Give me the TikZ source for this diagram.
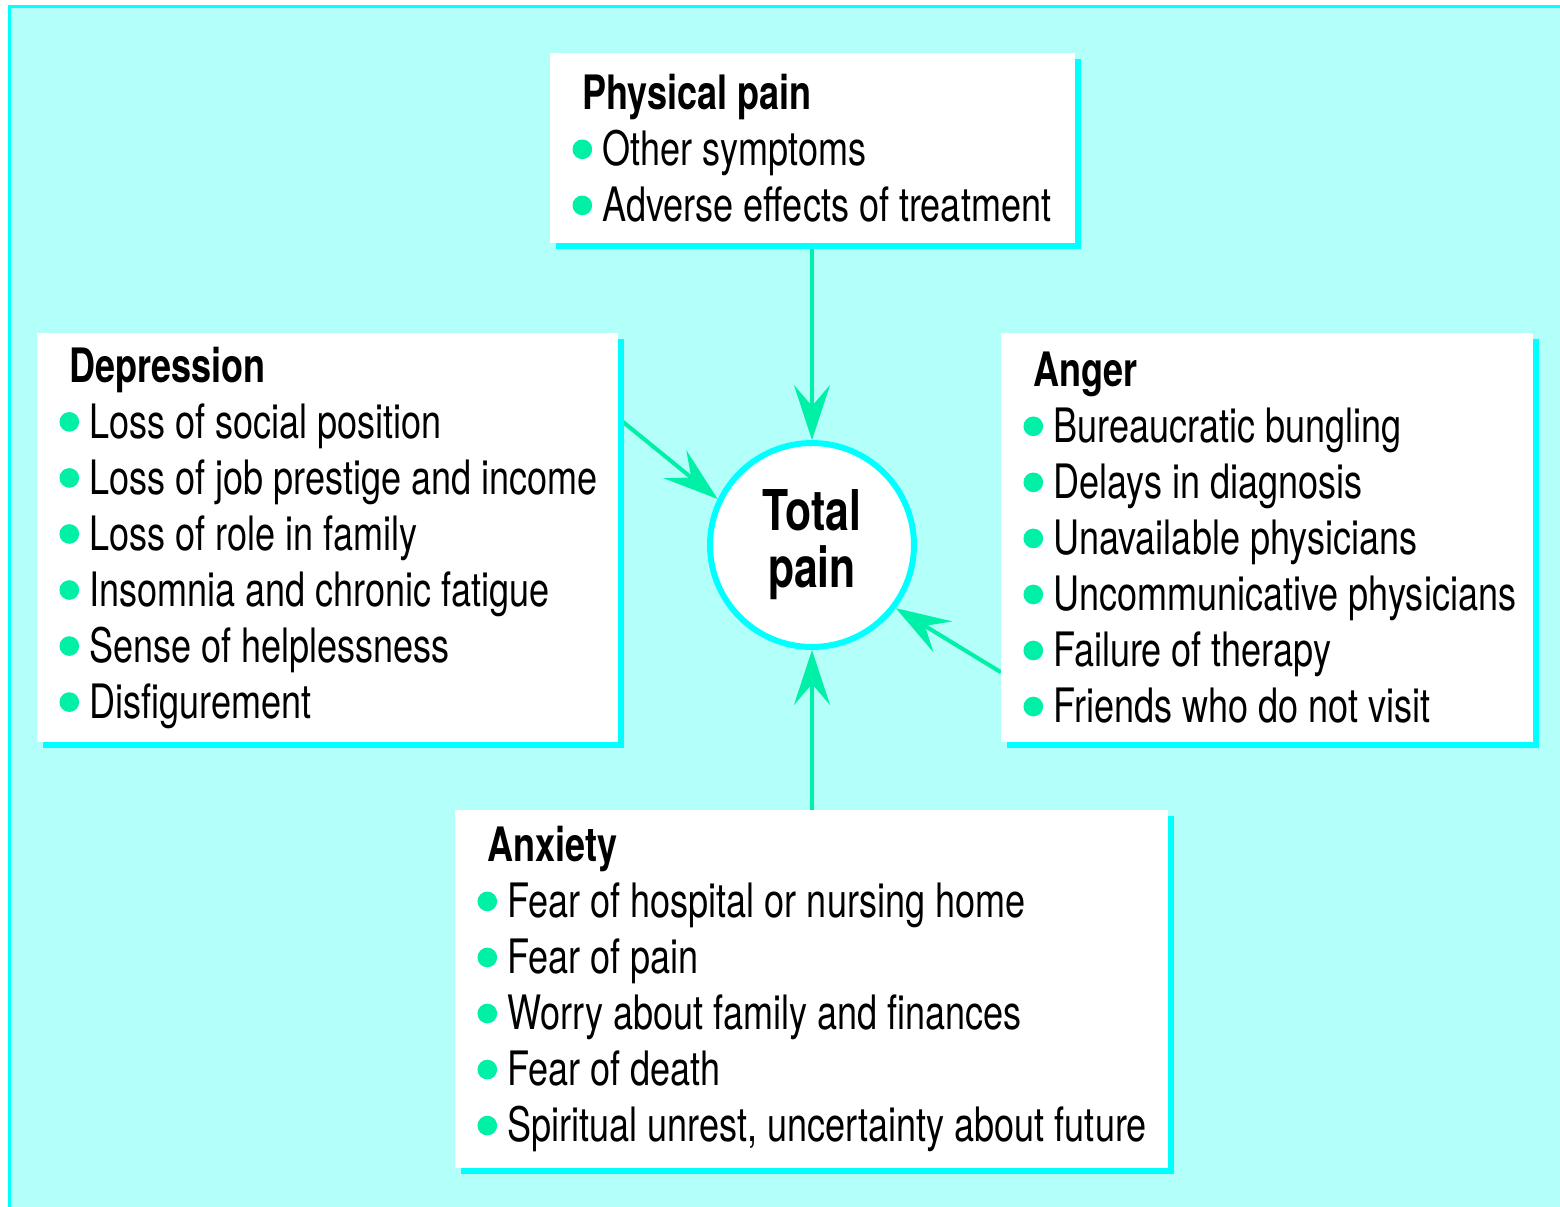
\documentclass[tikz,border=0pt]{standalone}
\usepackage{fontspec}
\setmainfont{TeX Gyre Heros}[FakeStretch=0.76]
\usetikzlibrary{arrows.meta,shadows,backgrounds}
\definecolor{skycyan}{RGB}{179,255,250}
\definecolor{edgecyan}{RGB}{0,255,255}
\definecolor{dotgreen}{RGB}{0,240,168}
\newcommand\bul{\makebox[11.4pt][l]{\hspace*{-5.6pt}\tikz[baseline=0pt]\fill[dotgreen] (0,9.3pt) circle (5.6pt);}}

\begin{document}
\begin{tikzpicture}[x=0.02cm, y=-0.02cm]
    \tikzset{
      panel/.style={anchor=north west, fill=white, inner sep=0pt, align=left,
        font=\fontsize{27pt}{31.9pt}\selectfont,
        execute at begin node={\leftskip=18.2pt\spaceskip=5.7pt plus 2pt minus 1pt\hyphenpenalty=10000\relax},
        drop shadow={shadow xshift=0.12cm, shadow yshift=-0.12cm, fill=edgecyan, opacity=1}},
      hub/.style={circle, draw=edgecyan, line width=3.4pt, fill=white, minimum size=4.08cm,
        align=center, font=\fontsize{32pt}{32.4pt}\selectfont\bfseries},
      flow/.style={-{Stealth[length=1.1cm, width=0.72cm, inset=0.42cm]}, color=dotgreen, line width=2.3pt}
    }
    \useasboundingbox (0,0) rectangle (1560,1207);

    \draw (550,53) node (phys) [panel, text width=10.5cm, minimum height=3.8cm]
      {\textbf{Physical pain}\\ \bul Other symptoms\\ \bul Adverse effects of treatment};
    \draw (37,333) node (depr) [panel, text width=11.62cm, minimum height=8.18cm]
      {\textbf{Depression}\\ \bul Loss of social position\\ \bul Loss of job prestige and income\\
       \bul Loss of role in family\\ \bul Insomnia and chronic fatigue\\
       \bul Sense of helplessness\\ \bul Disfigurement};
    \draw (1001,333) node (anger) [panel, text width=10.64cm, minimum height=8.18cm]
      {\textbf{Anger}\\ \bul Bureaucratic bungling\\ \bul Delays in diagnosis\\
       \bul Unavailable physicians\\ \bul Uncommunicative physicians\\
       \bul Failure of therapy\\ \bul Friends who do not visit};
    \draw (455,810) node (anx) [panel, text width=14.26cm, minimum height=7.16cm]
      {\textbf{Anxiety}\\ \bul Fear of hospital or nursing home\\ \bul Fear of pain\\
       \bul Worry about family and finances\\ \bul Fear of death\\
       \bul Spiritual unrest, uncertainty about future};
    \draw (812,545) node (total) [hub] {Total\\pain};

    \begin{scope}[on background layer]
      \fill[skycyan] (9,6) rectangle (1560,1207);
      \draw[edgecyan, line width=2pt] (9.5,1207) -- (9.5,6.5) -- (1560,6.5); % frame
      \draw[flow] (phys.south -| total) -- (total.north);
      \draw[flow] ([yshift=2.39cm]depr.east) -- (total.154);
      \draw[flow] ([yshift=-2.69cm]anger.west) -- (total.-37);
      \draw[flow] (anx.north -| total) -- (total.south);
    \end{scope}

  \end{tikzpicture}
\end{document}
